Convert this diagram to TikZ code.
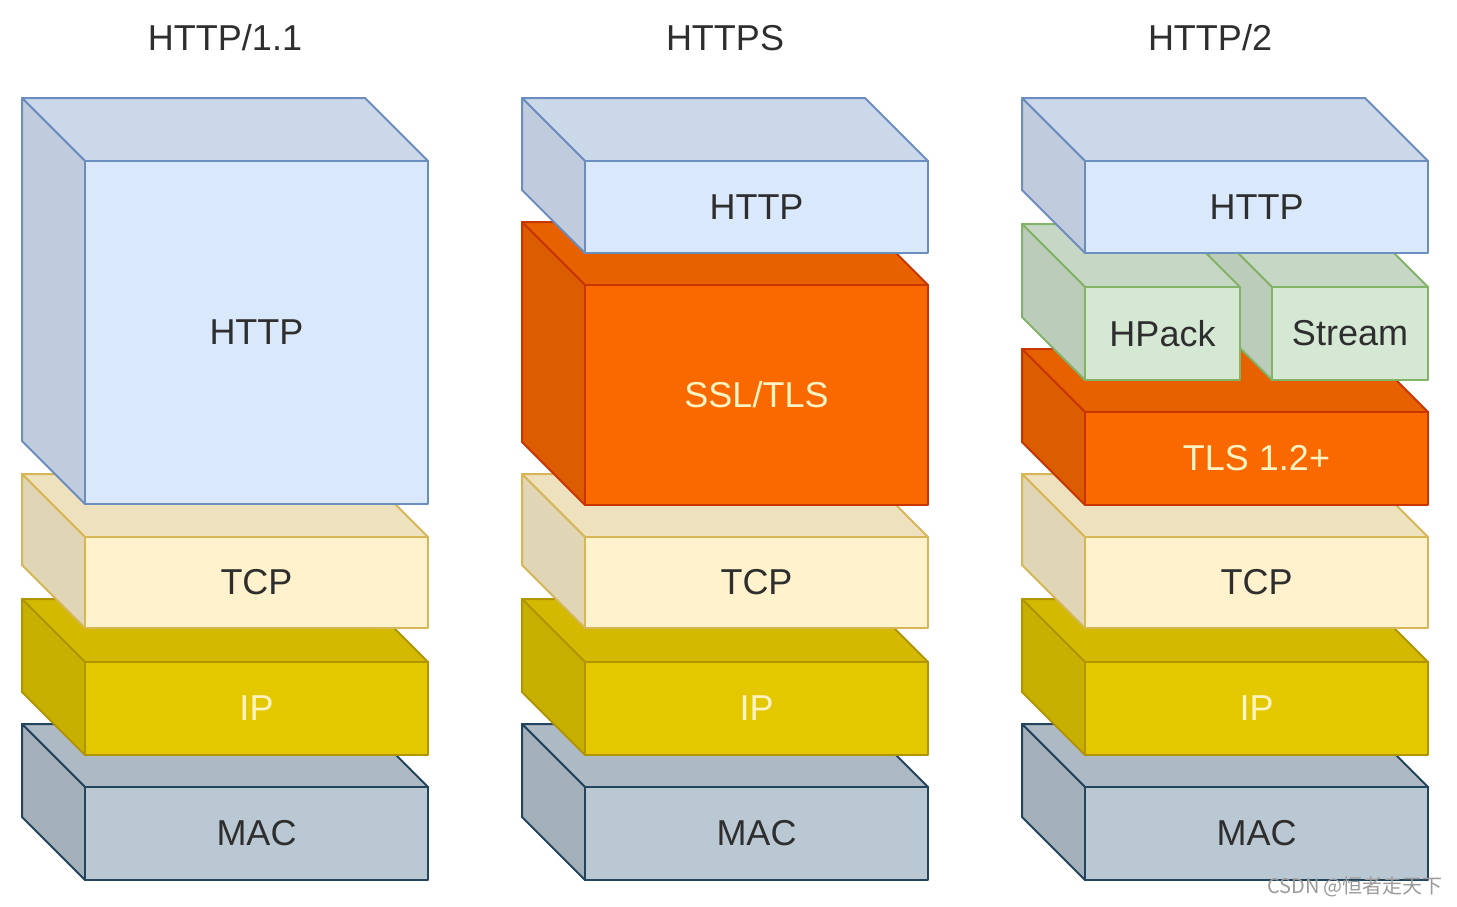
\documentclass[tikz,border=0pt]{standalone}
\usepackage{fontspec}
\setmainfont{Liberation Sans}
\newfontfamily\cjk{Noto Sans CJK SC}
\definecolor{blueF}{HTML}{DAE8FC}\definecolor{blueS}{HTML}{6C8EBF}
\definecolor{tanF}{HTML}{FFF2CC}\definecolor{tanS}{HTML}{D6B656}
\definecolor{yelF}{HTML}{E3C800}\definecolor{yelS}{HTML}{B09500}
\definecolor{macF}{HTML}{BAC8D3}\definecolor{macS}{HTML}{23445D}
\definecolor{oraF}{HTML}{FA6800}\definecolor{oraS}{HTML}{C73500}
\definecolor{grnF}{HTML}{D5E8D4}\definecolor{grnS}{HTML}{82B366}
\definecolor{darktxt}{HTML}{2E2E2E}
\definecolor{lighttxt}{HTML}{FFF3C4}
\definecolor{wmark}{HTML}{9A9A9A}
% #1 name, #2 X, #3 Y, #4 W, #5 H, #6 colour prefix, #7 text, #8 text colour
\newcommand\stacklayer[8]{%
  \filldraw[draw=#6S, fill=#6F!93!black, facet] (#2,#3) -- (#2+#4,#3) -- (#2+#4+63,#3+63) -- (#2+63,#3+63) -- cycle;
  \filldraw[draw=#6S, fill=#6F!88!black, facet] (#2,#3) -- (#2+63,#3+63) -- (#2+63,#3+63+#5) -- (#2,#3+#5) -- cycle;
  \filldraw[draw=#6S, fill=#6F, facet] (#2+63,#3+63) rectangle (#2+63+#4,#3+63+#5);
  \node[lbl, text=#8] (#1) at (#2+63+#4/2,#3+63+#5/2) {#7};
}
\begin{document}
\begin{tikzpicture}[x=0.5pt, y=-0.5pt,
  facet/.style={line width=1pt, line join=round},
  lbl/.style={font=\fontsize{18}{20}\selectfont, inner sep=0pt, anchor=center},
  ttl/.style={font=\fontsize{18}{20}\selectfont, text=darktxt, inner sep=0pt}]
\useasboundingbox (0,0) rectangle (1457,906);
\fill[white] (0,0) rectangle (1457,906);
% titles
\node[ttl] (t1) at (225,38) {HTTP/1.1};
\node[ttl] (t2) at (725,38) {HTTPS};
\node[ttl] (t3) at (1210,38) {HTTP/2};
% column 1
\stacklayer{mac1}{22}{724}{343}{93}{mac}{MAC}{darktxt}
\stacklayer{ip1}{22}{599}{343}{93}{yel}{IP}{lighttxt}
\stacklayer{tcp1}{22}{474}{343}{91}{tan}{TCP}{darktxt}
\stacklayer{http1}{22}{98}{343}{343}{blue}{HTTP}{darktxt}
% column 2
\stacklayer{mac2}{522}{724}{343}{93}{mac}{MAC}{darktxt}
\stacklayer{ip2}{522}{599}{343}{93}{yel}{IP}{lighttxt}
\stacklayer{tcp2}{522}{474}{343}{91}{tan}{TCP}{darktxt}
\stacklayer{ssl2}{522}{222}{343}{220}{ora}{SSL/TLS}{lighttxt}
\stacklayer{http2}{522}{98}{343}{92}{blue}{HTTP}{darktxt}
% column 3
\stacklayer{mac3}{1022}{724}{343}{93}{mac}{MAC}{darktxt}
\stacklayer{ip3}{1022}{599}{343}{93}{yel}{IP}{lighttxt}
\stacklayer{tcp3}{1022}{474}{343}{91}{tan}{TCP}{darktxt}
\stacklayer{tls3}{1022}{349}{343}{93}{ora}{TLS 1.2+}{lighttxt}
\stacklayer{stream3}{1209}{224}{156}{93}{grn}{Stream}{darktxt}
\stacklayer{hpack3}{1022}{224}{155}{93}{grn}{HPack}{darktxt}
\stacklayer{http3}{1022}{98}{343}{92}{blue}{HTTP}{darktxt}
% watermark
\node[font=\cjk\fontsize{10}{12}\selectfont, text=wmark, inner sep=0pt] (wm) at (1355,887) {CSDN @恒者走天下};
\end{tikzpicture}
\end{document}
